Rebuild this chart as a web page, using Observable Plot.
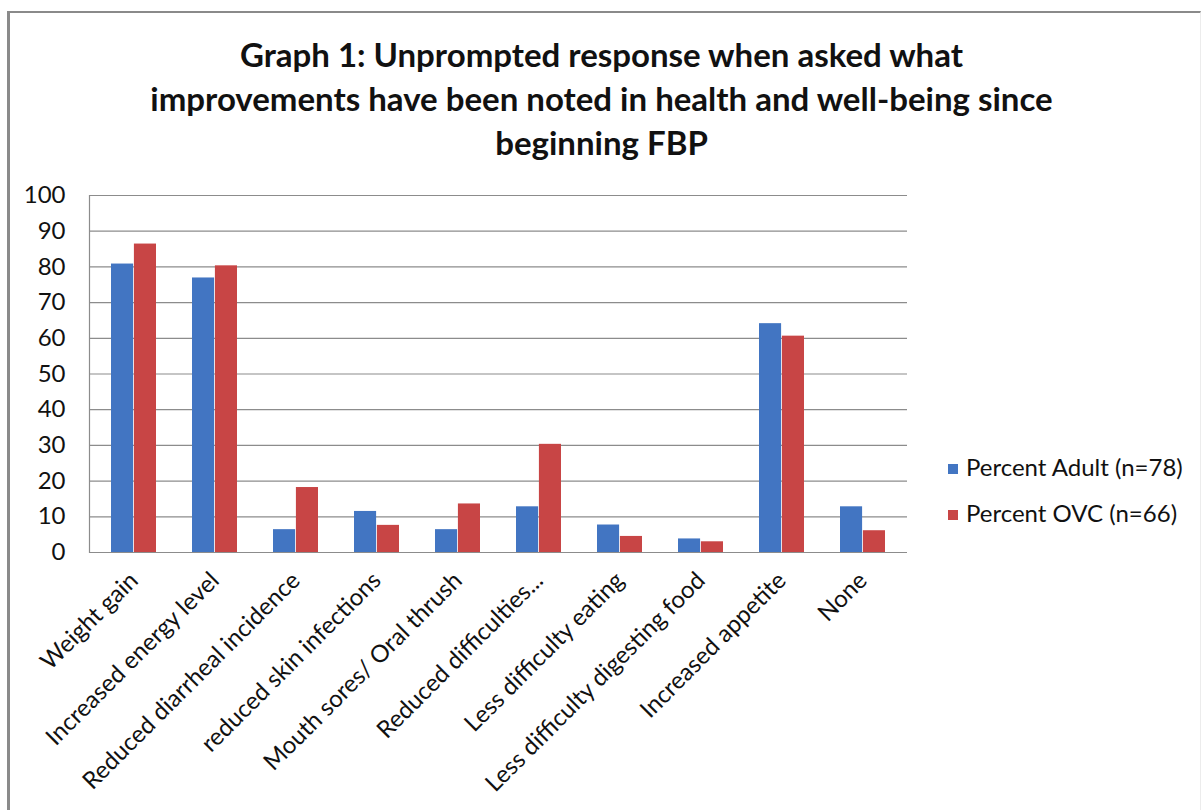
<!DOCTYPE html>
<html>
<head>
<meta charset="utf-8">
<script src="https://cdn.jsdelivr.net/npm/d3@7"></script>
<script src="https://cdn.jsdelivr.net/npm/@observablehq/plot@0.6"></script>
<style>
  html, body { margin: 0; padding: 0; background: #fff; }
  #wrap { position: relative; width: 1203px; height: 810px; overflow: hidden; font-family: Lato, "Open Sans", sans-serif; color: #111; }
  #frame { position: absolute; left: 7px; top: 11px; width: 1190px; height: 810px; border-left: 3px solid #8a8a8a; border-top: 2px solid #8a8a8a; border-right: 1px solid #ececec; }
  #title { position: absolute; left: 0; top: 32px; width: 1203px; text-align: center; font-weight: bold; font-size: 33px; line-height: 44px; }
  #chart { position: absolute; left: 0; top: 175px; }
  #legend { position: absolute; left: 948px; top: 444px; font-size: 24px; line-height: 46px; white-space: nowrap; }
  #legend .sw { display: inline-block; width: 10px; height: 10px; margin-right: 8px; vertical-align: 2px; }
</style>
</head>
<body>
<div id="wrap">
  <div id="frame"></div>
  <div id="title"></div>
  <div id="chart"></div>
  <div id="legend"></div>
</div>
<script>
const titleLines = [
  "Graph 1: Unprompted response when asked what",
  "improvements have been noted in health and well-being since",
  "beginning FBP"
];
const categories = [
  "Weight gain",
  "Increased energy level",
  "Reduced diarrheal incidence",
  "reduced skin infections",
  "Mouth sores/ Oral thrush",
  "Reduced difficulties...",
  "Less difficulty eating",
  "Less difficulty digesting food",
  "Increased appetite",
  "None"
];
const seriesNames = ["Percent Adult (n=78)", "Percent OVC (n=66)"];
const adult = [80.8, 76.9, 6.4, 11.5, 6.4, 12.8, 7.7, 3.8, 64.1, 12.8];
const ovc = [86.4, 80.3, 18.2, 7.6, 13.6, 30.3, 4.5, 3.0, 60.6, 6.1];
const yTicks = [0, 10, 20, 30, 40, 50, 60, 70, 80, 90, 100];
const colors = ["#4275c2", "#c84545"];

document.getElementById("title").innerHTML = titleLines.join("<br>");

const adultData = categories.map((c, i) => ({category: c, value: adult[i]}));
const ovcData = categories.map((c, i) => ({category: c, value: ovc[i]}));

const W = 940, H = 630;
const plotWidth = 940 - 89 - 33;
const step = plotWidth / categories.length;
const bw = step * 0.56;

const chart = Plot.plot({
  width: W,
  height: H,
  marginLeft: 89,
  marginRight: 33,
  marginTop: 20,
  marginBottom: 253,
  style: {fontFamily: "Lato, 'Open Sans', sans-serif", fontSize: "24px", color: "#111", background: "transparent"},
  x: {domain: categories, paddingInner: 0.44, paddingOuter: 0.22, label: null},
  y: {domain: [0, 100], label: null},
  marks: [
    Plot.ruleY(yTicks, {stroke: "#8c8c8c", strokeWidth: 1.2, strokeOpacity: 1}),
    Plot.frame({anchor: "left", stroke: "#8c8c8c", strokeWidth: 1.2}),
    Plot.barY(adultData, {x: "category", y: "value", fill: colors[0], insetRight: bw / 2}),
    Plot.barY(ovcData, {x: "category", y: "value", fill: colors[1], insetLeft: bw / 2}),
    Plot.axisY({ticks: yTicks, tickSize: 0, tickPadding: 24, fontSize: 24, label: null}),
    Plot.axisX({tickSize: 0, tickRotate: -45, tickPadding: 24, fontSize: 24, label: null})
  ]
});
document.getElementById("chart").appendChild(chart);

const legend = document.getElementById("legend");
seriesNames.forEach((name, i) => {
  const row = document.createElement("div");
  row.innerHTML = `<span class="sw" style="background:${colors[i]}"></span>${name}`;
  legend.appendChild(row);
});
</script>
</body>
</html>
